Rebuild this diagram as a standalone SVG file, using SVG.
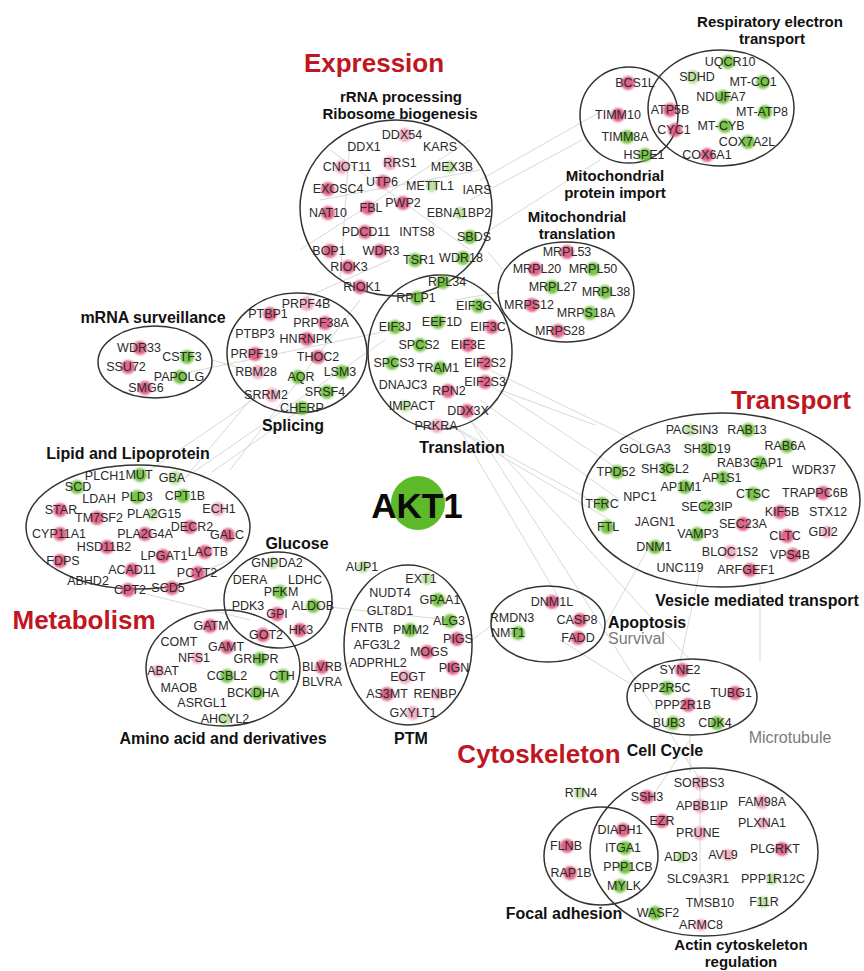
<svg xmlns="http://www.w3.org/2000/svg" width="864" height="971" viewBox="0 0 864 971">
<defs>
<filter id="soft" x="-50%" y="-50%" width="200%" height="200%"><feGaussianBlur stdDeviation="1.2"/></filter>
</defs>
<style>
text{font-family:"Liberation Sans",Arial,sans-serif;text-anchor:middle;dominant-baseline:central}
.n text{font-size:12.5px;fill:#2a2a2a}
.t{font-size:16px;font-weight:bold;fill:#111}
.t2{font-size:15px;font-weight:bold;fill:#111}
.c{font-size:26px;font-weight:bold;fill:#c0161f}
.s{font-size:16px;fill:#7a7a7a}
.e{fill:none;stroke:#333;stroke-width:1.5}
.p{fill:#dc4a74;opacity:.85;filter:url(#soft)}
.pl{fill:#f09ab4;opacity:.8;filter:url(#soft)}
.g{fill:#62bb2c;opacity:.85;filter:url(#soft)}
.gl{fill:#b3dc92;opacity:.85;filter:url(#soft)}
#connectors line{stroke:#d4d4d4;stroke-width:0.9}
</style>
<rect width="864" height="971" fill="#fff"/>
<g id="connectors">
<line x1="185" y1="478" x2="250" y2="400"/>
<line x1="185" y1="478" x2="385" y2="340"/>
<line x1="212" y1="472" x2="300" y2="410"/>
<line x1="150" y1="470" x2="260" y2="395"/>
<line x1="212" y1="360" x2="240" y2="368"/>
<line x1="190" y1="372" x2="392" y2="330"/>
<line x1="440" y1="420" x2="610" y2="520"/>
<line x1="480" y1="400" x2="620" y2="500"/>
<line x1="470" y1="420" x2="690" y2="660"/>
<line x1="470" y1="420" x2="700" y2="780"/>
<line x1="500" y1="390" x2="595" y2="425"/>
<line x1="490" y1="370" x2="655" y2="450"/>
<line x1="460" y1="430" x2="560" y2="600"/>
<line x1="605" y1="625" x2="650" y2="545"/>
<line x1="472" y1="640" x2="492" y2="625"/>
<line x1="340" y1="667" x2="355" y2="660"/>
<line x1="320" y1="606" x2="450" y2="620"/>
<line x1="680" y1="662" x2="700" y2="570"/>
<line x1="690" y1="735" x2="690" y2="772"/>
<line x1="760" y1="585" x2="760" y2="662"/>
<line x1="488" y1="252" x2="505" y2="272"/>
<line x1="480" y1="180" x2="600" y2="112"/>
<line x1="470" y1="200" x2="582" y2="140"/>
<line x1="490" y1="230" x2="600" y2="160"/>
<line x1="455" y1="300" x2="500" y2="292"/>
<line x1="330" y1="150" x2="470" y2="250"/>
<line x1="320" y1="200" x2="480" y2="170"/>
<line x1="350" y1="140" x2="340" y2="280"/>
<line x1="300" y1="250" x2="470" y2="140"/>
<line x1="300" y1="300" x2="390" y2="260"/>
<line x1="160" y1="590" x2="230" y2="560"/>
<line x1="130" y1="590" x2="250" y2="620"/>
<line x1="620" y1="470" x2="490" y2="385"/>
<line x1="600" y1="505" x2="450" y2="425"/>
<line x1="360" y1="300" x2="230" y2="470"/>
<line x1="700" y1="790" x2="700" y2="900"/>
<line x1="650" y1="800" x2="690" y2="740"/>
<line x1="560" y1="640" x2="640" y2="690"/>
</g>

<!-- Category labels -->
<text class="c" x="374" y="63">Expression</text>
<text class="c" x="791" y="400">Transport</text>
<text class="c" x="84" y="620">Metabolism</text>
<text class="c" x="539" y="754">Cytoskeleton</text>

<!-- rRNA processing -->
<g id="cl-rrna">
<ellipse class="e" cx="396" cy="208" rx="96" ry="88"/>
<text class="t2" x="401" y="96">rRNA processing</text>
<text class="t2" x="400" y="113">Ribosome biogenesis</text>
</g>
<g class="n" id="rrna-nodes">
<g id="n-DDX54"><circle class="pl" cx="405" cy="135" r="7"/><text x="402" y="135">DDX54</text></g>
<g id="n-DDX1"><text x="364" y="147">DDX1</text></g>
<g id="n-KARS"><text x="440" y="147">KARS</text></g>
<g id="n-CNOT11"><circle class="pl" cx="342" cy="167" r="7"/><text x="347" y="167">CNOT11</text></g>
<g id="n-RRS1"><circle class="pl" cx="390" cy="163" r="7"/><text x="400" y="163">RRS1</text></g>
<g id="n-MEX3B"><circle class="gl" cx="450" cy="167" r="6"/><text x="452" y="167">MEX3B</text></g>
<g id="n-EXOSC4"><circle class="p" cx="328" cy="189" r="7"/><text x="338" y="189">EXOSC4</text></g>
<g id="n-UTP6"><circle class="p" cx="383" cy="182" r="7"/><text x="382" y="182">UTP6</text></g>
<g id="n-METTL1"><circle class="gl" cx="432" cy="186" r="6"/><text x="430" y="186">METTL1</text></g>
<g id="n-IARS"><text x="477" y="190">IARS</text></g>
<g id="n-NAT10"><circle class="p" cx="328" cy="213" r="7"/><text x="328" y="213">NAT10</text></g>
<g id="n-FBL"><circle class="p" cx="368" cy="208" r="7"/><text x="371" y="208">FBL</text></g>
<g id="n-PWP2"><circle class="p" cx="403" cy="203" r="7"/><text x="403" y="203">PWP2</text></g>
<g id="n-EBNA1BP2"><circle class="gl" cx="460" cy="213" r="6"/><text x="459" y="213">EBNA1BP2</text></g>
<g id="n-PDCD11"><circle class="p" cx="365" cy="232" r="7"/><text x="366" y="232">PDCD11</text></g>
<g id="n-INTS8"><text x="417" y="232">INTS8</text></g>
<g id="n-SBDS"><circle class="g" cx="470" cy="237" r="7"/><text x="474" y="237">SBDS</text></g>
<g id="n-BOP1"><circle class="p" cx="330" cy="251" r="7"/><text x="329" y="251">BOP1</text></g>
<g id="n-WDR3"><circle class="p" cx="380" cy="251" r="7"/><text x="381" y="251">WDR3</text></g>
<g id="n-RIOK3"><circle class="p" cx="348" cy="267" r="7"/><text x="349" y="267">RIOK3</text></g>
<g id="n-TSR1"><circle class="g" cx="415" cy="260" r="7"/><text x="419" y="260">TSR1</text></g>
<g id="n-WDR18"><circle class="g" cx="463" cy="258" r="7"/><text x="461" y="258">WDR18</text></g>
<g id="n-RIOK1"><circle class="p" cx="360" cy="287" r="7"/><text x="362" y="287">RIOK1</text></g>
</g>

<!-- Translation -->
<g id="cl-translation">
<ellipse class="e" cx="440" cy="352" rx="72" ry="77"/>
<text class="t" x="462" y="447">Translation</text>
</g>
<g class="n" id="translation-nodes">
<g id="n-RPL34"><circle class="g" cx="443" cy="282" r="7"/><text x="447" y="282">RPL34</text></g>
<g id="n-RPLP1"><circle class="g" cx="417" cy="298" r="7"/><text x="416" y="298">RPLP1</text></g>
<g id="n-EIF3G"><circle class="g" cx="478" cy="306" r="7"/><text x="474" y="306">EIF3G</text></g>
<g id="n-EEF1D"><circle class="g" cx="438" cy="322" r="7"/><text x="442" y="322">EEF1D</text></g>
<g id="n-EIF3J"><circle class="g" cx="395" cy="327" r="7"/><text x="395" y="327">EIF3J</text></g>
<g id="n-EIF3C"><circle class="p" cx="492" cy="327" r="7"/><text x="488" y="327">EIF3C</text></g>
<g id="n-SPCS2"><circle class="g" cx="420" cy="345" r="7"/><text x="419" y="345">SPCS2</text></g>
<g id="n-EIF3E"><circle class="p" cx="468" cy="345" r="7"/><text x="468" y="345">EIF3E</text></g>
<g id="n-SPCS3"><circle class="g" cx="392" cy="363" r="7"/><text x="394" y="363">SPCS3</text></g>
<g id="n-TRAM1"><circle class="g" cx="440" cy="368" r="7"/><text x="438" y="368">TRAM1</text></g>
<g id="n-EIF2S2"><circle class="p" cx="485" cy="363" r="7"/><text x="485" y="363">EIF2S2</text></g>
<g id="n-DNAJC3"><text x="403" y="385">DNAJC3</text></g>
<g id="n-RPN2"><circle class="p" cx="448" cy="391" r="7"/><text x="449" y="391">RPN2</text></g>
<g id="n-EIF2S3"><circle class="p" cx="485" cy="382" r="7"/><text x="485" y="382">EIF2S3</text></g>
<g id="n-IMPACT"><circle class="gl" cx="405" cy="406" r="6"/><text x="412" y="406">IMPACT</text></g>
<g id="n-DDX3X"><circle class="p" cx="467" cy="411" r="7"/><text x="468" y="411">DDX3X</text></g>
<g id="n-PRKRA"><circle class="pl" cx="437" cy="426" r="7"/><text x="436" y="426">PRKRA</text></g>
</g>

<!-- Mitochondrial translation -->
<g id="cl-mitotrans">
<ellipse class="e" cx="566" cy="292" rx="68" ry="50"/>
<text class="t2" x="577" y="216">Mitochondrial</text>
<text class="t2" x="577" y="233">translation</text>
</g>
<g class="n" id="mitotrans-nodes">
<g id="n-MRPL53"><circle class="p" cx="567" cy="252" r="7"/><text x="567" y="252">MRPL53</text></g>
<g id="n-MRPL20"><circle class="p" cx="535" cy="269" r="7"/><text x="537" y="269">MRPL20</text></g>
<g id="n-MRPL50"><circle class="g" cx="593" cy="269" r="7"/><text x="593" y="269">MRPL50</text></g>
<g id="n-MRPL27"><circle class="g" cx="552" cy="287" r="7"/><text x="553" y="287">MRPL27</text></g>
<g id="n-MRPL38"><circle class="g" cx="605" cy="292" r="7"/><text x="606" y="292">MRPL38</text></g>
<g id="n-MRPS12"><circle class="p" cx="532" cy="305" r="7"/><text x="529" y="305">MRPS12</text></g>
<g id="n-MRPS18A"><circle class="g" cx="590" cy="313" r="7"/><text x="586" y="313">MRPS18A</text></g>
<g id="n-MRPS28"><circle class="p" cx="558" cy="331" r="7"/><text x="560" y="331">MRPS28</text></g>
</g>

<!-- Mitochondrial protein import / Respiratory electron transport -->
<g id="cl-mitoimport">
<ellipse class="e" cx="629" cy="115" rx="49" ry="48"/>
<text class="t2" x="615" y="175">Mitochondrial</text>
<text class="t2" x="615" y="192">protein import</text>
</g>
<g id="cl-resp">
<ellipse class="e" cx="721" cy="108" rx="73" ry="58"/>
<text class="t2" x="770" y="21">Respiratory electron</text>
<text class="t2" x="772" y="38">transport</text>
</g>
<g class="n" id="mito-nodes">
<g id="n-BCS1L"><circle class="p" cx="628" cy="83" r="7"/><text x="635" y="83">BCS1L</text></g>
<g id="n-TIMM10"><circle class="p" cx="618" cy="115" r="7"/><text x="618" y="115">TIMM10</text></g>
<g id="n-TIMM8A"><circle class="g" cx="627" cy="137" r="7"/><text x="625" y="137">TIMM8A</text></g>
<g id="n-HSPE1"><circle class="g" cx="645" cy="155" r="7"/><text x="644" y="155">HSPE1</text></g>
<g id="n-ATP5B"><circle class="p" cx="670" cy="110" r="7"/><text x="670" y="110">ATP5B</text></g>
<g id="n-CYC1"><circle class="p" cx="675" cy="130" r="7"/><text x="674" y="130">CYC1</text></g>
<g id="n-UQCR10"><circle class="g" cx="728" cy="62" r="7"/><text x="730" y="62">UQCR10</text></g>
<g id="n-SDHD"><circle class="gl" cx="693" cy="77" r="7"/><text x="697" y="77">SDHD</text></g>
<g id="n-MT-CO1"><circle class="g" cx="763" cy="82" r="7"/><text x="753" y="82">MT-CO1</text></g>
<g id="n-NDUFA7"><circle class="g" cx="723" cy="97" r="7"/><text x="721" y="97">NDUFA7</text></g>
<g id="n-MT-ATP8"><circle class="g" cx="765" cy="112" r="7"/><text x="762" y="112">MT-ATP8</text></g>
<g id="n-MT-CYB"><circle class="g" cx="725" cy="126" r="7"/><text x="721" y="126">MT-CYB</text></g>
<g id="n-COX7A2L"><circle class="g" cx="748" cy="142" r="7"/><text x="747" y="142">COX7A2L</text></g>
<g id="n-COX6A1"><circle class="p" cx="707" cy="155" r="7"/><text x="707" y="155">COX6A1</text></g>
</g>

<!-- Splicing -->
<g id="cl-splicing">
<ellipse class="e" cx="297" cy="353" rx="70" ry="60"/>
<text class="t" x="293" y="425">Splicing</text>
</g>
<g class="n" id="splicing-nodes">
<g id="n-PRPF4B"><circle class="pl" cx="307" cy="304" r="7"/><text x="306" y="304">PRPF4B</text></g>
<g id="n-PTBP1"><circle class="p" cx="270" cy="314" r="7"/><text x="268" y="314">PTBP1</text></g>
<g id="n-PRPF38A"><circle class="p" cx="325" cy="323" r="7"/><text x="321" y="323">PRPF38A</text></g>
<g id="n-PTBP3"><text x="255" y="334">PTBP3</text></g>
<g id="n-HNRNPK"><circle class="p" cx="307" cy="339" r="7"/><text x="306" y="339">HNRNPK</text></g>
<g id="n-PRPF19"><circle class="p" cx="255" cy="354" r="7"/><text x="254" y="354">PRPF19</text></g>
<g id="n-THOC2"><circle class="p" cx="318" cy="357" r="7"/><text x="318" y="357">THOC2</text></g>
<g id="n-RBM28"><circle class="pl" cx="258" cy="372" r="7"/><text x="256" y="372">RBM28</text></g>
<g id="n-AQR"><circle class="g" cx="298" cy="377" r="7"/><text x="301" y="377">AQR</text></g>
<g id="n-LSM3"><circle class="g" cx="342" cy="372" r="7"/><text x="340" y="372">LSM3</text></g>
<g id="n-SRRM2"><circle class="pl" cx="272" cy="395" r="7"/><text x="266" y="395">SRRM2</text></g>
<g id="n-SRSF4"><circle class="g" cx="327" cy="392" r="7"/><text x="325" y="392">SRSF4</text></g>
<g id="n-CHERP"><circle class="g" cx="302" cy="408" r="7"/><text x="302" y="408">CHERP</text></g>
</g>

<!-- mRNA surveillance -->
<g id="cl-mrna">
<ellipse class="e" cx="155" cy="362" rx="57" ry="36"/>
<text class="t" x="153" y="317">mRNA surveillance</text>
</g>
<g class="n" id="mrna-nodes">
<g id="n-WDR33"><circle class="p" cx="140" cy="348" r="7"/><text x="139" y="348">WDR33</text></g>
<g id="n-CSTF3"><circle class="g" cx="187" cy="357" r="7"/><text x="182" y="357">CSTF3</text></g>
<g id="n-SSU72"><circle class="p" cx="128" cy="367" r="7"/><text x="126" y="367">SSU72</text></g>
<g id="n-PAPOLG"><circle class="g" cx="180" cy="377" r="7"/><text x="179" y="377">PAPOLG</text></g>
<g id="n-SMG6"><circle class="p" cx="145" cy="388" r="7"/><text x="146" y="388">SMG6</text></g>
</g>

<!-- Vesicle mediated transport -->
<g id="cl-vesicle">
<ellipse class="e" cx="721" cy="500" rx="139" ry="87"/>
<text class="t" x="757" y="600">Vesicle mediated transport</text>
</g>
<g class="n" id="vesicle-nodes">
<g id="n-PACSIN3"><circle class="gl" cx="690" cy="430" r="6"/><text x="692" y="430">PACSIN3</text></g>
<g id="n-RAB13"><circle class="g" cx="748" cy="430" r="7"/><text x="747" y="430">RAB13</text></g>
<g id="n-GOLGA3"><text x="645" y="449">GOLGA3</text></g>
<g id="n-SH3D19"><circle class="g" cx="707" cy="449" r="7"/><text x="707" y="449">SH3D19</text></g>
<g id="n-RAB6A"><circle class="g" cx="787" cy="446" r="7"/><text x="785" y="446">RAB6A</text></g>
<g id="n-TPD52"><circle class="g" cx="617" cy="472" r="7"/><text x="616" y="472">TPD52</text></g>
<g id="n-SH3GL2"><circle class="g" cx="667" cy="469" r="7"/><text x="665" y="469">SH3GL2</text></g>
<g id="n-RAB3GAP1"><circle class="g" cx="760" cy="463" r="7"/><text x="750" y="463">RAB3GAP1</text></g>
<g id="n-WDR37"><text x="814" y="470">WDR37</text></g>
<g id="n-AP1S1"><circle class="g" cx="723" cy="478" r="7"/><text x="722" y="478">AP1S1</text></g>
<g id="n-AP1M1"><circle class="g" cx="685" cy="487" r="7"/><text x="681" y="487">AP1M1</text></g>
<g id="n-NPC1"><text x="640" y="497">NPC1</text></g>
<g id="n-TFRC"><circle class="g" cx="602" cy="504" r="7"/><text x="602" y="504">TFRC</text></g>
<g id="n-CTSC"><circle class="g" cx="753" cy="494" r="7"/><text x="753" y="494">CTSC</text></g>
<g id="n-TRAPPC6B"><circle class="p" cx="823" cy="493" r="7"/><text x="815" y="493">TRAPPC6B</text></g>
<g id="n-SEC23IP"><circle class="g" cx="707" cy="507" r="7"/><text x="707" y="507">SEC23IP</text></g>
<g id="n-KIF5B"><circle class="p" cx="780" cy="512" r="7"/><text x="782" y="512">KIF5B</text></g>
<g id="n-STX12"><text x="828" y="512">STX12</text></g>
<g id="n-JAGN1"><text x="655" y="522">JAGN1</text></g>
<g id="n-FTL"><circle class="g" cx="607" cy="527" r="7"/><text x="608" y="527">FTL</text></g>
<g id="n-SEC23A"><circle class="p" cx="743" cy="524" r="7"/><text x="743" y="524">SEC23A</text></g>
<g id="n-CLTC"><circle class="p" cx="787" cy="536" r="7"/><text x="785" y="536">CLTC</text></g>
<g id="n-GDI2"><circle class="pl" cx="827" cy="532" r="6"/><text x="823" y="532">GDI2</text></g>
<g id="n-VAMP3"><circle class="g" cx="697" cy="534" r="7"/><text x="698" y="534">VAMP3</text></g>
<g id="n-DNM1"><circle class="g" cx="655" cy="547" r="7"/><text x="654" y="547">DNM1</text></g>
<g id="n-BLOC1S2"><circle class="pl" cx="730" cy="552" r="7"/><text x="730" y="552">BLOC1S2</text></g>
<g id="n-VPS4B"><circle class="p" cx="793" cy="555" r="7"/><text x="790" y="555">VPS4B</text></g>
<g id="n-UNC119"><text x="680" y="568">UNC119</text></g>
<g id="n-ARFGEF1"><circle class="p" cx="750" cy="570" r="7"/><text x="746" y="570">ARFGEF1</text></g>
</g>

<!-- Lipid and Lipoprotein -->
<g id="cl-lipid">
<ellipse class="e" cx="138" cy="527" rx="112" ry="62"/>
<text class="t" x="128" y="453">Lipid and Lipoprotein</text>
</g>
<g class="n" id="lipid-nodes">
<g id="n-PLCH1"><text x="105" y="476">PLCH1</text></g>
<g id="n-MUT"><circle class="g" cx="140" cy="475" r="7"/><text x="139" y="475">MUT</text></g>
<g id="n-GBA"><circle class="gl" cx="175" cy="478" r="7"/><text x="172" y="478">GBA</text></g>
<g id="n-SCD"><circle class="g" cx="77" cy="487" r="7"/><text x="78" y="487">SCD</text></g>
<g id="n-LDAH"><text x="99" y="499">LDAH</text></g>
<g id="n-PLD3"><circle class="g" cx="137" cy="497" r="7"/><text x="137" y="497">PLD3</text></g>
<g id="n-CPT1B"><circle class="g" cx="183" cy="496" r="7"/><text x="185" y="496">CPT1B</text></g>
<g id="n-ECH1"><circle class="pl" cx="218" cy="509" r="7"/><text x="219" y="509">ECH1</text></g>
<g id="n-STAR"><circle class="p" cx="60" cy="510" r="7"/><text x="61" y="510">STAR</text></g>
<g id="n-TM7SF2"><circle class="p" cx="97" cy="518" r="7"/><text x="99" y="518">TM7SF2</text></g>
<g id="n-PLA2G15"><circle class="gl" cx="152" cy="514" r="6"/><text x="154" y="514">PLA2G15</text></g>
<g id="n-CYP11A1"><circle class="p" cx="60" cy="534" r="7"/><text x="59" y="534">CYP11A1</text></g>
<g id="n-PLA2G4A"><circle class="p" cx="145" cy="534" r="7"/><text x="145" y="534">PLA2G4A</text></g>
<g id="n-DECR2"><circle class="p" cx="190" cy="527" r="7"/><text x="192" y="527">DECR2</text></g>
<g id="n-GALC"><circle class="p" cx="228" cy="535" r="7"/><text x="227" y="535">GALC</text></g>
<g id="n-HSD11B2"><circle class="p" cx="107" cy="547" r="7"/><text x="104" y="547">HSD11B2</text></g>
<g id="n-LPGAT1"><circle class="p" cx="163" cy="556" r="7"/><text x="164" y="556">LPGAT1</text></g>
<g id="n-LACTB"><circle class="p" cx="205" cy="552" r="7"/><text x="208" y="552">LACTB</text></g>
<g id="n-FDPS"><circle class="p" cx="60" cy="561" r="7"/><text x="63" y="561">FDPS</text></g>
<g id="n-ACAD11"><circle class="p" cx="132" cy="570" r="7"/><text x="132" y="570">ACAD11</text></g>
<g id="n-PCYT2"><circle class="p" cx="198" cy="573" r="7"/><text x="197" y="573">PCYT2</text></g>
<g id="n-ABHD2"><text x="88" y="581">ABHD2</text></g>
<g id="n-CPT2"><circle class="p" cx="128" cy="590" r="7"/><text x="130" y="590">CPT2</text></g>
<g id="n-SCD5"><circle class="p" cx="172" cy="588" r="7"/><text x="168" y="588">SCD5</text></g>
</g>

<!-- Glucose -->
<g id="cl-glucose">
<ellipse class="e" cx="278" cy="600" rx="54" ry="48"/>
<text class="t" x="297" y="543">Glucose</text>
</g>
<g class="n" id="glucose-nodes">
<g id="n-GNPDA2"><circle class="gl" cx="273" cy="563" r="6"/><text x="277" y="563">GNPDA2</text></g>
<g id="n-DERA"><text x="250" y="580">DERA</text></g>
<g id="n-LDHC"><text x="305" y="580">LDHC</text></g>
<g id="n-PFKM"><circle class="g" cx="280" cy="592" r="7"/><text x="281" y="592">PFKM</text></g>
<g id="n-PDK3"><text x="248" y="606">PDK3</text></g>
<g id="n-ALDOB"><circle class="g" cx="313" cy="606" r="7"/><text x="313" y="606">ALDOB</text></g>
<g id="n-GPI"><circle class="p" cx="277" cy="614" r="7"/><text x="277" y="614">GPI</text></g>
<g id="n-GOT2"><circle class="p" cx="263" cy="635" r="7"/><text x="266" y="635">GOT2</text></g>
<g id="n-HK3"><circle class="p" cx="300" cy="630" r="7"/><text x="301" y="630">HK3</text></g>
</g>

<!-- Amino acid and derivatives -->
<g id="cl-amino">
<ellipse class="e" cx="223" cy="668" rx="77" ry="58"/>
<text class="t" x="223" y="738">Amino acid and derivatives</text>
</g>
<g class="n" id="amino-nodes">
<g id="n-GATM"><circle class="p" cx="210" cy="626" r="7"/><text x="211" y="626">GATM</text></g>
<g id="n-COMT"><text x="179" y="642">COMT</text></g>
<g id="n-GAMT"><circle class="p" cx="227" cy="647" r="7"/><text x="226" y="647">GAMT</text></g>
<g id="n-NFS1"><circle class="pl" cx="197" cy="658" r="6"/><text x="194" y="658">NFS1</text></g>
<g id="n-GRHPR"><circle class="g" cx="260" cy="659" r="7"/><text x="256" y="659">GRHPR</text></g>
<g id="n-ABAT"><circle class="pl" cx="158" cy="671" r="6"/><text x="163" y="671">ABAT</text></g>
<g id="n-CCBL2"><circle class="g" cx="227" cy="676" r="7"/><text x="227" y="676">CCBL2</text></g>
<g id="n-CTH"><circle class="g" cx="283" cy="676" r="7"/><text x="282" y="676">CTH</text></g>
<g id="n-MAOB"><text x="179" y="688">MAOB</text></g>
<g id="n-BCKDHA"><circle class="g" cx="257" cy="693" r="7"/><text x="253" y="693">BCKDHA</text></g>
<g id="n-ASRGL1"><text x="202" y="703">ASRGL1</text></g>
<g id="n-AHCYL2"><circle class="gl" cx="225" cy="719" r="6"/><text x="225" y="719">AHCYL2</text></g>
<g id="n-BLVRB"><circle class="p" cx="322" cy="667" r="7"/><text x="322" y="667">BLVRB</text></g>
<g id="n-BLVRA"><text x="322" y="682">BLVRA</text></g>
</g>

<!-- AKT1 -->
<g id="n-AKT1">
<circle cx="418" cy="503" r="27" fill="#5fba2a"/>
<text x="417" y="505" style="font-size:35px;font-weight:bold;fill:#0a0a0a">AKT1</text>
</g>

<!-- PTM -->
<g id="cl-ptm">
<ellipse class="e" cx="408" cy="645" rx="64" ry="80"/>
<text class="t" x="411" y="738">PTM</text>
</g>
<g class="n" id="ptm-nodes">
<g id="n-AUP1"><circle class="gl" cx="363" cy="567" r="6"/><text x="362" y="567">AUP1</text></g>
<g id="n-EXT1"><circle class="gl" cx="427" cy="579" r="6"/><text x="421" y="579">EXT1</text></g>
<g id="n-NUDT4"><text x="390" y="593">NUDT4</text></g>
<g id="n-GPAA1"><circle class="g" cx="438" cy="600" r="7"/><text x="440" y="600">GPAA1</text></g>
<g id="n-GLT8D1"><text x="390" y="611">GLT8D1</text></g>
<g id="n-ALG3"><circle class="g" cx="450" cy="621" r="7"/><text x="449" y="621">ALG3</text></g>
<g id="n-FNTB"><text x="367" y="628">FNTB</text></g>
<g id="n-PMM2"><circle class="g" cx="410" cy="630" r="7"/><text x="411" y="630">PMM2</text></g>
<g id="n-PIGS"><circle class="p" cx="457" cy="639" r="7"/><text x="458" y="639">PIGS</text></g>
<g id="n-AFG3L2"><text x="377" y="645">AFG3L2</text></g>
<g id="n-MOGS"><circle class="p" cx="427" cy="652" r="7"/><text x="429" y="652">MOGS</text></g>
<g id="n-ADPRHL2"><text x="378" y="663">ADPRHL2</text></g>
<g id="n-PIGN"><circle class="p" cx="453" cy="668" r="7"/><text x="454" y="668">PIGN</text></g>
<g id="n-EOGT"><circle class="pl" cx="405" cy="677" r="7"/><text x="408" y="677">EOGT</text></g>
<g id="n-AS3MT"><circle class="p" cx="387" cy="694" r="7"/><text x="387" y="694">AS3MT</text></g>
<g id="n-RENBP"><circle class="pl" cx="437" cy="694" r="6"/><text x="435" y="694">RENBP</text></g>
<g id="n-GXYLT1"><circle class="pl" cx="413" cy="713" r="7"/><text x="413" y="713">GXYLT1</text></g>
</g>

<!-- Apoptosis -->
<g id="cl-apoptosis">
<ellipse class="e" cx="548" cy="624" rx="57" ry="38"/>
<text class="t" x="608" y="622" style="text-anchor:start">Apoptosis</text>
<text class="s" x="608" y="638" style="text-anchor:start">Survival</text>
</g>
<g class="n" id="apoptosis-nodes">
<g id="n-DNM1L"><circle class="p" cx="552" cy="602" r="7"/><text x="552" y="602">DNM1L</text></g>
<g id="n-RMDN3"><text x="512" y="618">RMDN3</text></g>
<g id="n-CASP8"><circle class="p" cx="580" cy="620" r="7"/><text x="577" y="620">CASP8</text></g>
<g id="n-NMT1"><circle class="g" cx="518" cy="633" r="7"/><text x="508" y="633">NMT1</text></g>
<g id="n-FADD"><circle class="p" cx="578" cy="638" r="7"/><text x="578" y="638">FADD</text></g>
</g>

<!-- Cell Cycle -->
<g id="cl-cellcycle">
<ellipse class="e" cx="692" cy="697" rx="65" ry="38"/>
<text class="t" x="665" y="750">Cell Cycle</text>
<text class="s" x="790" y="737">Microtubule</text>
</g>
<g class="n" id="cellcycle-nodes">
<g id="n-SYNE2"><circle class="p" cx="682" cy="670" r="7"/><text x="680" y="670">SYNE2</text></g>
<g id="n-PPP2R5C"><circle class="g" cx="667" cy="688" r="7"/><text x="662" y="688">PPP2R5C</text></g>
<g id="n-TUBG1"><circle class="p" cx="735" cy="693" r="7"/><text x="731" y="693">TUBG1</text></g>
<g id="n-PPP2R1B"><circle class="p" cx="688" cy="705" r="7"/><text x="683" y="705">PPP2R1B</text></g>
<g id="n-BUB3"><circle class="g" cx="673" cy="723" r="7"/><text x="669" y="723">BUB3</text></g>
<g id="n-CDK4"><circle class="g" cx="717" cy="723" r="7"/><text x="715" y="723">CDK4</text></g>
</g>

<!-- Focal adhesion / Actin cytoskeleton regulation -->
<g id="cl-focal">
<ellipse class="e" cx="601" cy="856" rx="57" ry="49"/>
<text class="t" x="564" y="913">Focal adhesion</text>
</g>
<g id="cl-actin">
<ellipse class="e" cx="704" cy="852" rx="114" ry="84"/>
<text class="t2" x="741" y="944">Actin cytoskeleton</text>
<text class="t2" x="741" y="961">regulation</text>
</g>
<g class="n" id="cyto-nodes">
<g id="n-RTN4"><circle class="gl" cx="580" cy="793" r="6"/><text x="581" y="793">RTN4</text></g>
<g id="n-SORBS3"><circle class="pl" cx="700" cy="783" r="7"/><text x="699" y="783">SORBS3</text></g>
<g id="n-SSH3"><circle class="p" cx="647" cy="797" r="7"/><text x="647" y="797">SSH3</text></g>
<g id="n-APBB1IP"><circle class="pl" cx="700" cy="806" r="7"/><text x="702" y="806">APBB1IP</text></g>
<g id="n-FAM98A"><circle class="pl" cx="762" cy="802" r="7"/><text x="762" y="802">FAM98A</text></g>
<g id="n-EZR"><circle class="p" cx="662" cy="821" r="7"/><text x="662" y="821">EZR</text></g>
<g id="n-DIAPH1"><circle class="p" cx="623" cy="830" r="7"/><text x="620" y="830">DIAPH1</text></g>
<g id="n-PRUNE"><circle class="pl" cx="700" cy="833" r="7"/><text x="698" y="833">PRUNE</text></g>
<g id="n-PLXNA1"><circle class="pl" cx="763" cy="823" r="6"/><text x="762" y="823">PLXNA1</text></g>
<g id="n-FLNB"><circle class="p" cx="567" cy="846" r="7"/><text x="566" y="846">FLNB</text></g>
<g id="n-ITGA1"><circle class="g" cx="625" cy="848" r="7"/><text x="623" y="848">ITGA1</text></g>
<g id="n-ADD3"><circle class="gl" cx="682" cy="857" r="6"/><text x="681" y="857">ADD3</text></g>
<g id="n-AVL9"><circle class="pl" cx="728" cy="855" r="6"/><text x="723" y="855">AVL9</text></g>
<g id="n-PLGRKT"><circle class="p" cx="782" cy="849" r="7"/><text x="775" y="849">PLGRKT</text></g>
<g id="n-PPP1CB"><circle class="g" cx="625" cy="867" r="7"/><text x="628" y="867">PPP1CB</text></g>
<g id="n-RAP1B"><circle class="p" cx="570" cy="873" r="7"/><text x="571" y="873">RAP1B</text></g>
<g id="n-SLC9A3R1"><text x="698" y="879">SLC9A3R1</text></g>
<g id="n-PPP1R12C"><circle class="gl" cx="772" cy="879" r="6"/><text x="773" y="879">PPP1R12C</text></g>
<g id="n-MYLK"><circle class="g" cx="620" cy="886" r="7"/><text x="624" y="886">MYLK</text></g>
<g id="n-TMSB10"><text x="710" y="903">TMSB10</text></g>
<g id="n-F11R"><circle class="gl" cx="763" cy="902" r="6"/><text x="764" y="902">F11R</text></g>
<g id="n-WASF2"><circle class="g" cx="655" cy="913" r="7"/><text x="658" y="913">WASF2</text></g>
<g id="n-ARMC8"><circle class="pl" cx="701" cy="925" r="6"/><text x="701" y="925">ARMC8</text></g>
</g>
</svg>
